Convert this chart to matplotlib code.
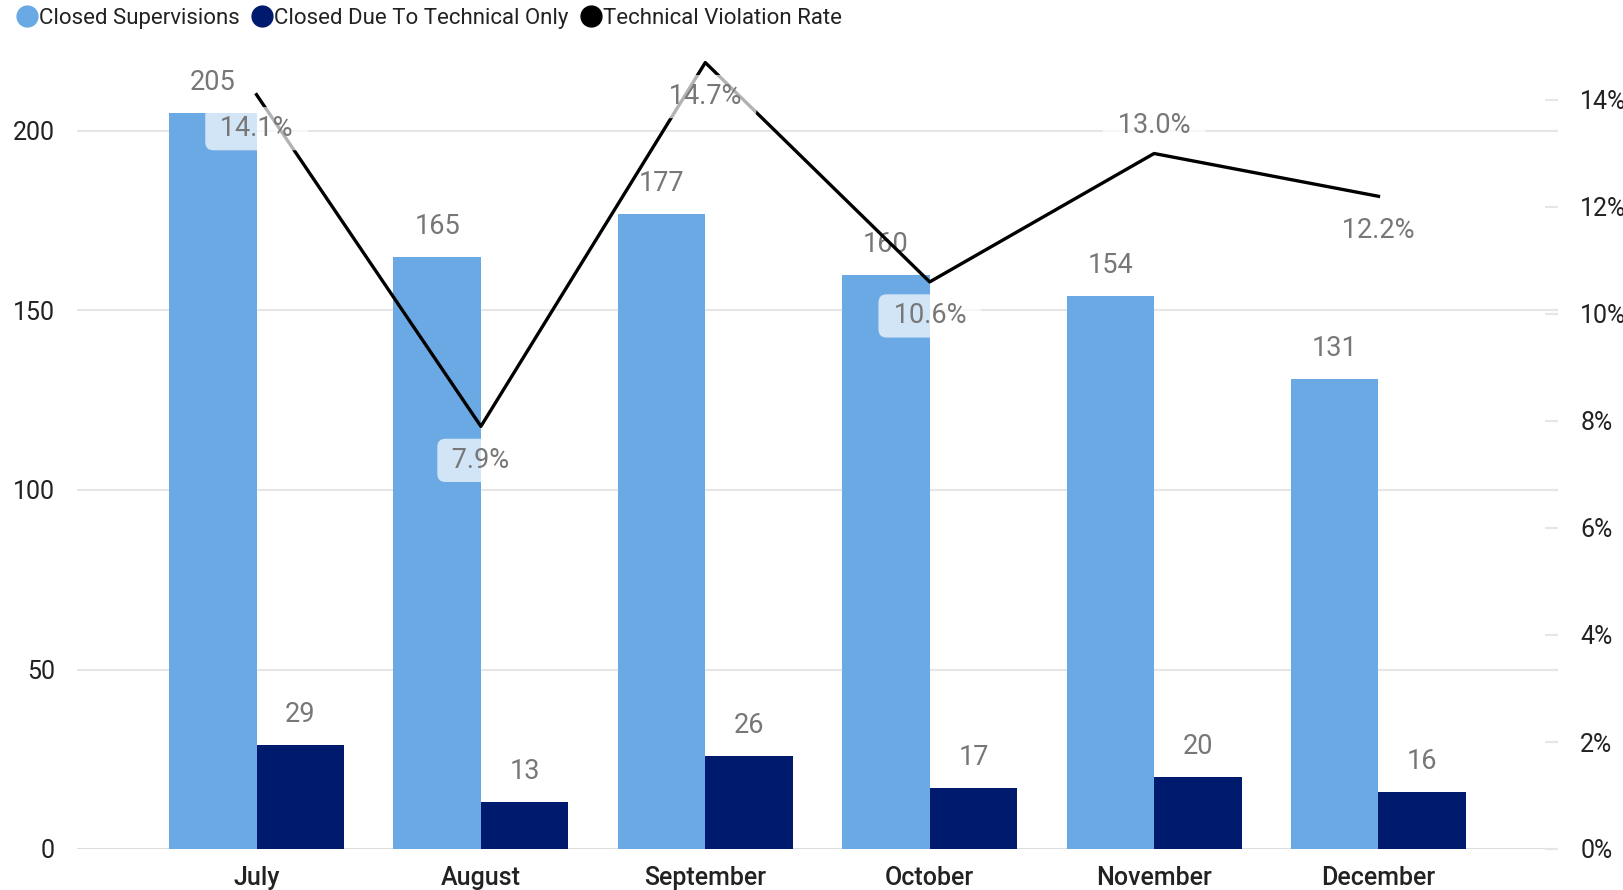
import matplotlib
matplotlib.use("Agg")
import matplotlib.pyplot as plt
from matplotlib.lines import Line2D
import numpy as np

plt.rcParams['font.family'] = ['Roboto', 'DejaVu Sans']

# data
months = ['July', 'August', 'September', 'October', 'November', 'December']
closed_supervisions = [205, 165, 177, 160, 154, 131]
closed_technical = [29, 13, 26, 17, 20, 16]
violation_rate = [14.1, 7.9, 14.7, 10.6, 13.0, 12.2]
rate_label_above = [False, False, False, False, True, False]

light_blue = '#6AA9E3'
navy = '#001A6E'
label_grey = '#777777'
grid_grey = '#E6E6E6'

fig = plt.figure(figsize=(16.24, 8.9), dpi=100)
ax = fig.add_axes([77 / 1624, 41 / 890, (1558 - 77) / 1624, (849 - 50) / 890])
ax2 = ax.twinx()

x = np.arange(len(months))
w = 0.39

# bars
b1 = ax.bar(x - w / 2, closed_supervisions, w, color=light_blue, zorder=2)
b2 = ax.bar(x + w / 2, closed_technical, w, color=navy, zorder=2)

for rects, vals in [(b1, closed_supervisions), (b2, closed_technical)]:
    for r, v in zip(rects, vals):
        ax.annotate(str(v), (r.get_x() + r.get_width() / 2, v), xytext=(0, 22),
                    textcoords='offset points', ha='center', va='center',
                    fontsize=19.5, color=label_grey, zorder=5)

ax.set_xlim(-0.8, len(months) - 0.2)
ax.set_ylim(0, (849 - 50) / 3.59)
ax.set_yticks([0, 50, 100, 150, 200])
ax.grid(axis='y', color=grid_grey, linewidth=1.5, zorder=0)
ax.set_axisbelow(True)
ax.axhline(0, color='#DDDDDD', linewidth=2, zorder=1)
ax.set_xticks(x)
ax.set_xticklabels(months, fontsize=18, color='#222222', fontweight='medium')
ax.tick_params(axis='x', length=0, pad=12)
ax.tick_params(axis='y', length=0, pad=16, labelsize=18, labelcolor='#222222')
for s in ax.spines.values():
    s.set_visible(False)

# rate line on secondary axis
ax2.set_zorder(ax.get_zorder() + 1)
ax2.patch.set_visible(False)
ax2.plot(x, violation_rate, color='black', linewidth=2.4, zorder=3)
ax2.set_ylim(0, (849 - 50) / 53.5)
ax2.set_yticks([0, 2, 4, 6, 8, 10, 12, 14])
ax2.set_yticklabels([f'{t}%' for t in [0, 2, 4, 6, 8, 10, 12, 14]])
ax2.tick_params(axis='y', direction='in', length=9.5, width=1.5, color=grid_grey,
                pad=16, labelsize=18, labelcolor='#222222')
for s in ax2.spines.values():
    s.set_visible(False)

for xi, v, above in zip(x, violation_rate, rate_label_above):
    off = 20 if above else -24.5
    ax2.annotate(f' {v:.1f}% ', (xi, v), xytext=(0, off), textcoords='offset points',
                 ha='center', va='center', fontsize=19.5, color=label_grey, zorder=6,
                 bbox=dict(boxstyle='round,pad=0.3,rounding_size=0.3',
                           facecolor='white', edgecolor='none', alpha=0.7))

# legend
handles = [
    Line2D([], [], marker='o', linestyle='none', markersize=15, color=light_blue),
    Line2D([], [], marker='o', linestyle='none', markersize=15, color=navy),
    Line2D([], [], marker='o', linestyle='none', markersize=15, color='black'),
]
fig.legend(handles, ['Closed Supervisions', 'Closed Due To Technical Only', 'Technical Violation Rate'],
           loc='upper left', bbox_to_anchor=(0.0, 1.009), ncol=3, frameon=False,
           fontsize=16, handletextpad=0.05, columnspacing=0.5, handlelength=1.0,
           borderaxespad=0.3, labelcolor='#222222')

fig.savefig('out.png', dpi=100)
